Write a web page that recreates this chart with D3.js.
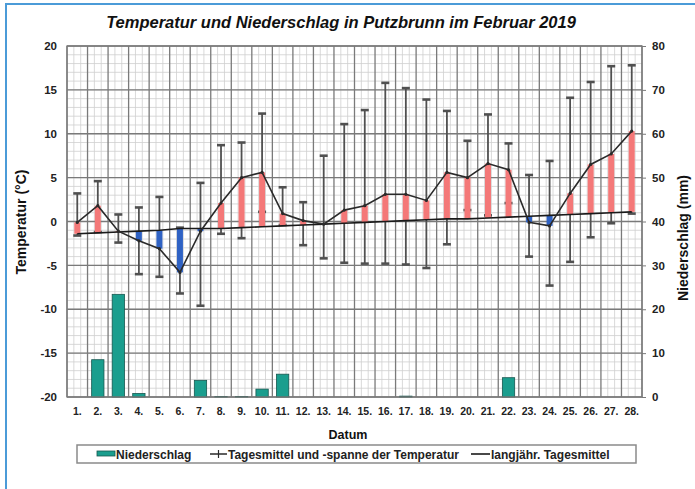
<!DOCTYPE html>
<html>
<head>
<meta charset="utf-8">
<script src="https://cdn.jsdelivr.net/npm/d3@7"></script>
<style>
  body { margin: 0; background: #fff; }
  text { font-family: "Liberation Sans", Arial, sans-serif; }
</style>
</head>
<body>
<div id="chart"></div>
<script>
const days = d3.range(1, 29);
const dayLabels = days.map(d => d + '.');

// Tagesmittel, Tagesminimum, Tagesmaximum (°C)
const tMean = [-0.1, 1.8, -1.1, -2.2, -3.1, -5.8, -1.1, 2.1, 5.0, 5.6, 0.9, 0.1, -0.3, 1.3,
  1.8, 3.1, 3.1, 2.4, 5.6, 5.0, 6.6, 5.9, -0.1, -0.5, 3.2, 6.5, 7.7, 10.3];
const tMin = [-1.6, -1.2, -2.4, -6.0, -6.3, -8.2, -9.6, -1.4, -1.9, 1.1, -0.4, -2.7, -4.2, -4.7,
  -4.8, -4.8, -4.9, -5.3, -2.6, 1.3, 0.7, 2.1, -4.0, -7.3, -4.6, -1.8, -0.2, 0.9];
const tMax = [3.2, 4.6, 0.8, 1.6, 2.8, -0.7, 4.4, 8.7, 9.0, 12.3, 3.9, 2.2, 7.5, 11.1,
  12.7, 15.8, 15.2, 13.9, 12.6, 9.2, 12.2, 8.9, 5.3, 6.9, 14.1, 15.9, 17.7, 17.8];
// langjähriges Tagesmittel (°C)
const tLong = [-1.4, -1.3, -1.2, -1.1, -1.0, -0.8, -0.8, -0.8, -0.7, -0.6, -0.5, -0.4, -0.3, -0.2,
  -0.1, 0.0, 0.1, 0.2, 0.3, 0.3, 0.4, 0.5, 0.6, 0.7, 0.8, 0.9, 1.0, 1.1];
// Niederschlag (mm)
const precip = [0, 8.5, 23.4, 0.8, 0, 0, 3.8, 0.1, 0.1, 1.8, 5.2, 0, 0, 0,
  0, 0, 0.2, 0, 0, 0, 0, 4.4, 0, 0, 0, 0, 0, 0];

const tTicks = [-20, -15, -10, -5, 0, 5, 10, 15, 20];
const pTicks = [0, 10, 20, 30, 40, 50, 60, 70, 80];

const width = 695, height = 489;
const margin = { top: 46, bottom: 92, left: 67, right: 53 };

const svg = d3.select('#chart').append('svg')
  .attr('width', width)
  .attr('height', height);

svg.append('rect').attr('width', width).attr('height', height).attr('fill', '#fff');
// blauer Rahmen
svg.append('rect')
  .attr('x', 6).attr('y', 4)
  .attr('width', width).attr('height', height)
  .attr('fill', 'none').attr('stroke', '#4b9bd8').attr('stroke-width', 2);

const x = d3.scaleBand()
  .domain(days)
  .range([margin.left, width - margin.right])
  .padding(0);
const yT = d3.scaleLinear().domain([-20, 20]).range([height - margin.bottom, margin.top]);
const yP = d3.scaleLinear().domain([0, 80]).range([height - margin.bottom, margin.top]);
const bw = x.bandwidth();

const grid = svg.append('g');
// feines Gitter
grid.selectAll('.hmin')
  .data(d3.range(-19, 20))
  .join('line')
  .attr('x1', margin.left).attr('x2', width - margin.right)
  .attr('y1', d => yT(d)).attr('y2', d => yT(d))
  .attr('stroke', '#cfcfcf').attr('stroke-width', 0.8);
grid.selectAll('.vmin')
  .data(days.flatMap(d => [x(d) + bw / 3, x(d) + 2 * bw / 3]))
  .join('line')
  .attr('x1', d => d).attr('x2', d => d)
  .attr('y1', margin.top).attr('y2', height - margin.bottom)
  .attr('stroke', '#cfcfcf').attr('stroke-width', 0.8);
// Hauptgitter
grid.append('g').selectAll('line')
  .data(tTicks)
  .join('line')
  .attr('x1', margin.left).attr('x2', width - margin.right)
  .attr('y1', d => yT(d)).attr('y2', d => yT(d))
  .attr('stroke', '#7a7a7a').attr('stroke-width', 1.3);
grid.append('g').selectAll('line')
  .data(days.map(d => x(d)).concat([width - margin.right]))
  .join('line')
  .attr('x1', d => d).attr('x2', d => d)
  .attr('y1', margin.top).attr('y2', height - margin.bottom)
  .attr('stroke', '#7a7a7a').attr('stroke-width', 1.3);

// Niederschlag
svg.append('g').selectAll('rect')
  .data(precip)
  .join('rect')
  .attr('x', (d, i) => x(days[i]) + bw * 0.2)
  .attr('y', d => yP(d))
  .attr('width', bw * 0.6)
  .attr('height', d => yP(0) - yP(d))
  .attr('fill', '#1a9e8e')
  .attr('stroke', '#17574f')
  .attr('stroke-width', d => d > 0 ? 0.8 : 0);

const cx = i => x(days[i]) + bw / 2;

// Temperaturspanne
const whisk = svg.append('g').attr('stroke', '#505050');
whisk.selectAll('line.span')
  .data(days)
  .join('line')
  .attr('x1', (d, i) => cx(i)).attr('x2', (d, i) => cx(i))
  .attr('y1', (d, i) => yT(tMin[i])).attr('y2', (d, i) => yT(tMax[i]))
  .attr('stroke-width', 1.8);
whisk.selectAll('line.cap')
  .data(days.flatMap((d, i) => [[i, tMin[i]], [i, tMax[i]]]))
  .join('line')
  .attr('x1', d => cx(d[0]) - 4).attr('x2', d => cx(d[0]) + 4)
  .attr('y1', d => yT(d[1])).attr('y2', d => yT(d[1]))
  .attr('stroke-width', 2.6);

// Abweichung vom langjährigen Mittel
svg.append('g').selectAll('rect')
  .data(days)
  .join('rect')
  .attr('x', (d, i) => cx(i) - 3)
  .attr('y', (d, i) => yT(Math.max(tMean[i], tLong[i])))
  .attr('width', 6)
  .attr('height', (d, i) => Math.abs(yT(tMean[i]) - yT(tLong[i])))
  .attr('fill', (d, i) => tMean[i] >= tLong[i] ? '#f47878' : '#2f62c4');

const line = d3.line().x((d, i) => cx(i)).y(d => yT(d));

svg.append('path')
  .datum(tLong)
  .attr('d', line)
  .attr('fill', 'none')
  .attr('stroke', '#1a1a1a')
  .attr('stroke-width', 1.6);

svg.append('path')
  .datum(tMean)
  .attr('d', line)
  .attr('fill', 'none')
  .attr('stroke', '#2a2a2a')
  .attr('stroke-width', 1.6);
svg.append('g').selectAll('circle')
  .data(tMean)
  .join('circle')
  .attr('cx', (d, i) => cx(i))
  .attr('cy', d => yT(d))
  .attr('r', 1.6)
  .attr('fill', '#2a2a2a');

// Rahmen Plotfläche
svg.append('rect')
  .attr('x', margin.left).attr('y', margin.top)
  .attr('width', width - margin.left - margin.right)
  .attr('height', height - margin.top - margin.bottom)
  .attr('fill', 'none').attr('stroke', '#7a7a7a').attr('stroke-width', 1.3);

// Achsen
const yAxisL = svg.append('g')
  .attr('transform', `translate(${margin.left},0)`)
  .call(d3.axisLeft(yT).tickValues(tTicks).tickFormat(d => String(d)).tickSize(0).tickPadding(10));
const yAxisR = svg.append('g')
  .attr('transform', `translate(${width - margin.right},0)`)
  .call(d3.axisRight(yP).tickValues(pTicks).tickFormat(d => String(d)).tickSize(4).tickPadding(6));
const xAxis = svg.append('g')
  .attr('transform', `translate(0,${height - margin.bottom})`)
  .call(d3.axisBottom(x).tickFormat((d, i) => dayLabels[i]).tickSize(0).tickPadding(11));

[yAxisL, yAxisR, xAxis].forEach(a => {
  a.select('.domain').remove();
  a.selectAll('text')
    .attr('font-family', '"Liberation Sans", Arial, sans-serif')
    .attr('font-weight', 'bold')
    .attr('fill', '#222');
});
yAxisL.selectAll('text').attr('font-size', 11.5);
yAxisR.selectAll('text').attr('font-size', 11.5);
yAxisR.selectAll('line').attr('stroke', '#7a7a7a');
xAxis.selectAll('text').attr('font-size', 10.5);

svg.append('text')
  .attr('x', 341).attr('y', 28)
  .attr('text-anchor', 'middle')
  .attr('font-size', 16.5).attr('font-weight', 'bold').attr('font-style', 'italic')
  .attr('fill', '#111')
  .text('Temperatur und Niederschlag in Putzbrunn im Februar 2019');

svg.append('text')
  .attr('transform', 'translate(26,222) rotate(-90)')
  .attr('text-anchor', 'middle')
  .attr('font-size', 14).attr('font-weight', 'bold').attr('fill', '#111')
  .text('Temperatur (°C)');

svg.append('text')
  .attr('transform', 'translate(688,238) rotate(-90)')
  .attr('text-anchor', 'middle')
  .attr('font-size', 14).attr('font-weight', 'bold').attr('fill', '#111')
  .text('Niederschlag (mm)');

svg.append('text')
  .attr('x', 348).attr('y', 439)
  .attr('text-anchor', 'middle')
  .attr('font-size', 12.5).attr('font-weight', 'bold').attr('fill', '#111')
  .text('Datum');

// Legende
const leg = svg.append('g');
leg.append('rect')
  .attr('x', 77).attr('y', 445).attr('width', 559).attr('height', 18)
  .attr('fill', '#fff').attr('stroke', '#8a8a8a').attr('stroke-width', 1.5);
leg.append('rect')
  .attr('x', 97).attr('y', 451).attr('width', 18).attr('height', 5)
  .attr('fill', '#1a9e8e').attr('stroke', '#17574f').attr('stroke-width', 0.8);
leg.append('line')
  .attr('x1', 210).attr('x2', 227).attr('y1', 454).attr('y2', 454)
  .attr('stroke', '#2a2a2a').attr('stroke-width', 1.5);
leg.append('line')
  .attr('x1', 218.5).attr('x2', 218.5).attr('y1', 450).attr('y2', 458)
  .attr('stroke', '#2a2a2a').attr('stroke-width', 1.2);
leg.append('line')
  .attr('x1', 471).attr('x2', 490).attr('y1', 454).attr('y2', 454)
  .attr('stroke', '#1a1a1a').attr('stroke-width', 1.6);
const legText = [
  { x: 116, t: 'Niederschlag' },
  { x: 228, t: 'Tagesmittel und -spanne der Temperatur' },
  { x: 491, t: 'langjähr. Tagesmittel' },
];
leg.selectAll('text.l')
  .data(legText)
  .join('text')
  .attr('x', d => d.x).attr('y', 458.5)
  .attr('font-size', 12).attr('font-weight', 'bold').attr('fill', '#222')
  .text(d => d.t);
</script>
</body>
</html>
